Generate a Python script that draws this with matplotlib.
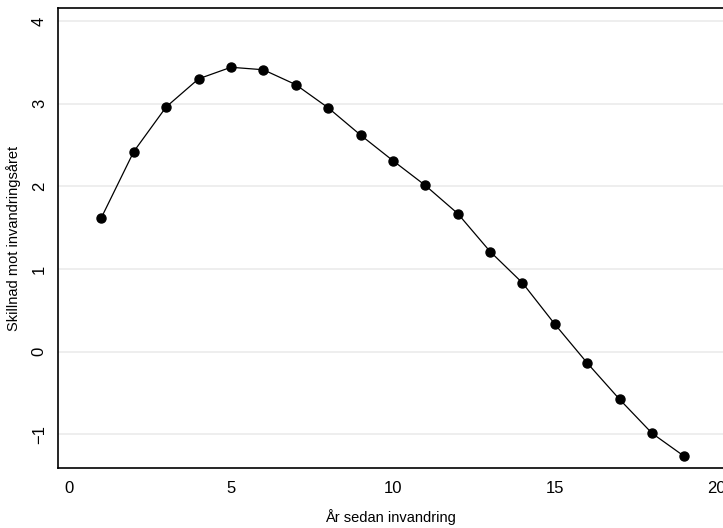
import matplotlib
matplotlib.use("Agg")
import matplotlib.pyplot as plt

plt.rcParams['font.family'] = ['Liberation Sans Narrow', 'Liberation Sans', 'DejaVu Sans']

# years since immigration and difference vs immigration year
years = list(range(1, 20))
diff = [1.62, 2.42, 2.96, 3.30, 3.44, 3.41, 3.23, 2.95, 2.62, 2.31,
        2.01, 1.67, 1.21, 0.83, 0.33, -0.14, -0.58, -0.99, -1.27]

x_ticks = [0, 5, 10, 15, 20]
y_ticks = [-1, 0, 1, 2, 3, 4]

fig = plt.figure(figsize=(7.23, 5.28), dpi=100)
ax = fig.add_axes([0.0802, 0.1136, 0.9198, 0.8712])

ax.plot(years, diff, color="black", linewidth=0.9, marker="o",
        markersize=6.5, zorder=3)

ax.set_xlim(-0.34, 20.19)
ax.set_ylim(-1.41, 4.157)
ax.set_xticks(x_ticks)
ax.set_yticks(y_ticks)
ax.set_yticklabels([str(v).replace("-", "\u2212") for v in y_ticks],
                   rotation=90, va="center")
ax.tick_params(length=0, labelsize=12, pad=9)
ax.tick_params(axis="y", pad=8)
ax.grid(axis="y", color="#ebebeb", linewidth=1.2)
ax.set_axisbelow(True)
ax.spines["right"].set_visible(False)
for s in ["left", "bottom", "top"]:
    ax.spines[s].set_linewidth(1.2)

ax.set_xlabel("År sedan invandring", fontsize=10.5, labelpad=10)
ax.set_ylabel("Skillnad mot invandringsåret", fontsize=10.5, labelpad=8)

fig.savefig("out.png", dpi=100)
